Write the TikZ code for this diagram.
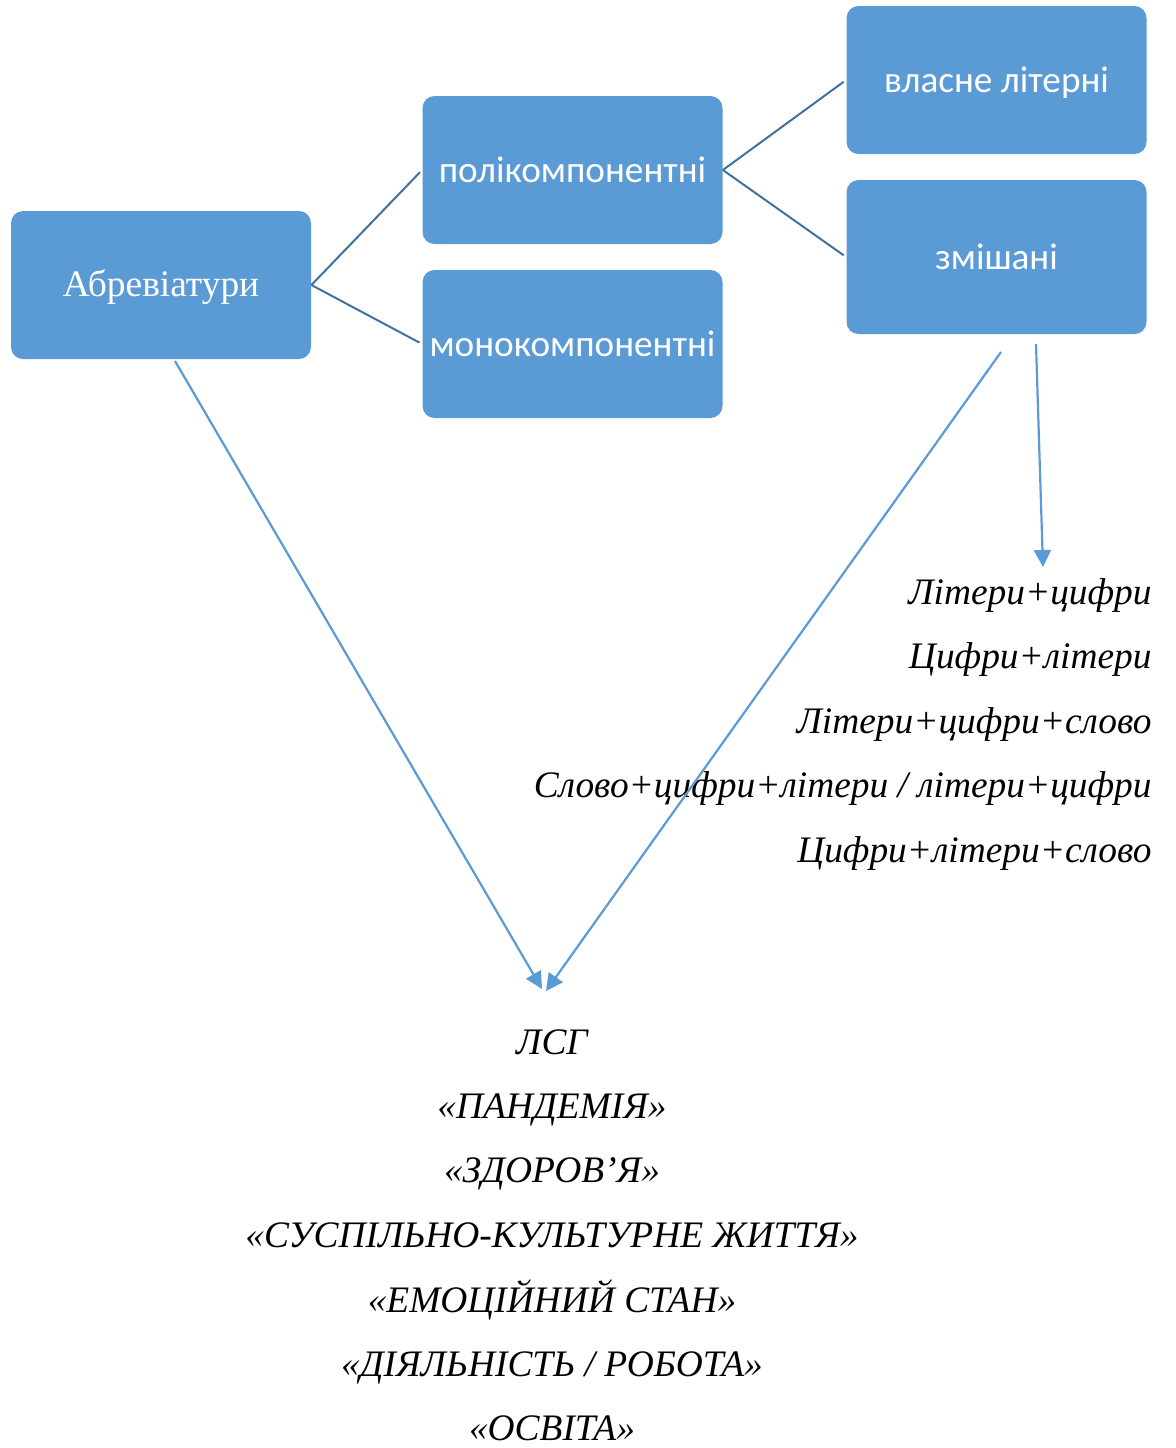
\documentclass[tikz,border=0pt]{standalone}
\usepackage{fontspec}
\setmainfont{Liberation Serif}
\newfontfamily\carl{Carlito}
\usetikzlibrary{arrows.meta}
\definecolor{boxblue}{HTML}{5B9BD5}
\definecolor{linkblue}{HTML}{41719C}
\begin{document}
\begin{tikzpicture}[x=0.5pt,y=-0.5pt,
  bx/.style={fill=boxblue,draw=none,rounded corners=6pt,minimum width=150pt,minimum height=74pt,inner sep=0pt,text=white,text depth=0pt},
  sbx/.style={bx,font=\carl\fontsize{18.6pt}{22pt}\selectfont,text height=12.8pt},
  link/.style={draw=linkblue,line width=1pt},
  arr/.style={draw=boxblue,line width=1.1pt,-{Triangle[length=8.5pt,width=8.5pt]}},
  it/.style={font=\fontsize{18.7pt}{22pt}\selectfont\itshape,inner sep=0pt}]
\useasboundingbox (0,0) rectangle (1175,1448);
\node[bx,font=\fontsize{18.7pt}{22pt}\selectfont,text height=11.8pt] (abbr) at (161,285) {Абревіатури};
\node[sbx] (poly) at (572.5,170) {полікомпонентні};
\node[sbx] (mono) at (572.5,344) {монокомпонентні};
\node[sbx] (own) at (996.5,80) {власне літерні};
\node[sbx,minimum height=77pt] (mix) at (996.5,257) {змішані};
\draw[link,shorten >=1.5pt] (abbr.east) -- (poly.west);
\draw[link,shorten >=1.5pt] (abbr.east) -- (mono.west);
\draw[link,shorten >=1.5pt] (poly.east) -- (own.west);
\draw[link,shorten >=1.5pt] (poly.east) -- (mix.west);
\node[it,anchor=base east] (t1) at (1152,604) {Літери+цифри};
\node[it,anchor=base east] (t2) at (1152,668) {Цифри+літери};
\node[it,anchor=base east] (t3) at (1152,733) {Літери+цифри+слово};
\node[it,anchor=base east] (t4) at (1152,797) {Слово+цифри+літери / літери+цифри};
\node[it,anchor=base east] (t5) at (1152,862) {Цифри+літери+слово};
\node[it,anchor=base] (b1) at (552,1054) {ЛСГ};
\node[it,anchor=base] (b2) at (552,1118) {«ПАНДЕМІЯ»};
\node[it,anchor=base] (b3) at (552,1182) {«ЗДОРОВ’Я»};
\node[it,anchor=base] (b4) at (552,1247) {«СУСПІЛЬНО-КУЛЬТУРНЕ ЖИТТЯ»};
\node[it,anchor=base] (b5) at (552,1312) {«ЕМОЦІЙНИЙ СТАН»};
\node[it,anchor=base] (b6) at (552,1376) {«ДІЯЛЬНІСТЬ / РОБОТА»};
\node[it,anchor=base] (b7) at (552,1440) {«ОСВІТА»};
\coordinate (s1) at (175,361);
\coordinate (e1) at (542,989);
\coordinate (s2) at (1001,352);
\coordinate (e2) at (546,991);
\coordinate (s3) at (1036,344);
\coordinate (e3) at (1043,567);
\draw[arr] (s1) -- (e1);
\draw[arr] (s2) -- (e2);
\draw[arr] (s3) -- (e3);
\end{tikzpicture}
\end{document}
